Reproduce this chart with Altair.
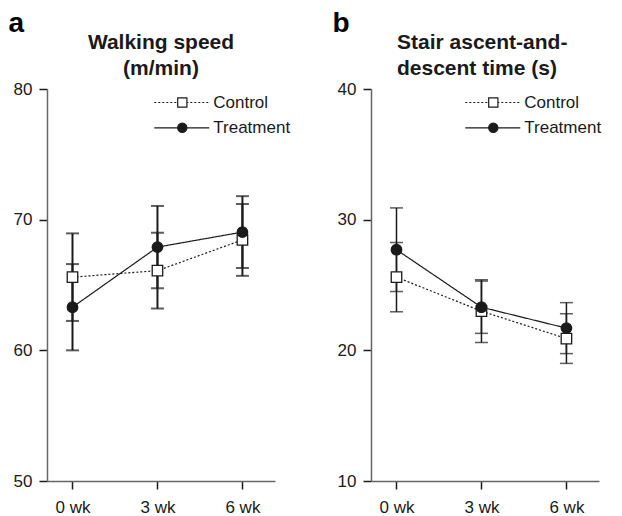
import altair as alt
import pandas as pd

weeks = [0, 3, 6]
groups = ["Control", "Treatment"]

walk_control_mean = [65.6, 66.1, 68.45]
walk_control_err = [3.35, 2.9, 2.75]
walk_treatment_mean = [63.3, 67.9, 69.05]
walk_treatment_err = [3.3, 3.15, 2.75]

stair_control_mean = [25.6, 23.0, 20.9]
stair_control_err = [2.65, 2.4, 1.9]
stair_treatment_mean = [27.7, 23.3, 21.7]
stair_treatment_err = [3.2, 2.0, 1.95]

walk_ticks = [50, 60, 70, 80]
stair_ticks = [10, 20, 30, 40]

walk_title = ["Walking speed", "(m/min)"]
stair_title = ["Stair ascent-and-", "descent time (s)"]

FONT = "Liberation Sans"
INK = "#1a1a1a"


def frame(c_mean, c_err, t_mean, t_err):
    rows = []
    for g, means, errs in [("Control", c_mean, c_err), ("Treatment", t_mean, t_err)]:
        for w, m, e in zip(weeks, means, errs):
            rows.append({"week": w, "group": g, "marker": g, "mean": m,
                         "lo": m - e, "hi": m + e})
    return pd.DataFrame(rows)


def panel(df, ticks, title_lines, title_align, title_x, letter, leg_x, bar_w):
    xs = alt.Scale(domain=[-0.9, 7.15], nice=False, zero=False)
    ys = alt.Scale(domain=[ticks[0], ticks[-1]], nice=False, zero=False)
    common = dict(title=None, grid=False, domainColor="#666666", domainWidth=1.5,
                  tickColor=INK, tickWidth=1.5, tickSize=8, labelFont=FONT,
                  labelFontSize=17, labelColor=INK)
    xaxis = alt.Axis(values=weeks, labelExpr="datum.value + ' wk'", labelPadding=10, **common)
    yaxis = alt.Axis(values=ticks, labelPadding=7, **common)
    X = alt.X("week:Q", scale=xs, axis=xaxis)
    base = alt.Chart(df)

    rules = base.mark_rule(color=INK, strokeWidth=bar_w).encode(
        x=X, y=alt.Y("lo:Q", scale=ys, axis=yaxis), y2="hi:Q")
    cap_lo = base.mark_tick(orient="horizontal", size=13, thickness=bar_w, color=INK).encode(
        x=X, y=alt.Y("lo:Q", scale=ys))
    cap_hi = base.mark_tick(orient="horizontal", size=13, thickness=bar_w, color=INK).encode(
        x=X, y=alt.Y("hi:Q", scale=ys))

    line_legend = alt.Legend(title=None, orient="none", legendX=leg_x, legendY=5,
                             symbolType="M-5.5,0H5.5", symbolSize=100, symbolStrokeWidth=1.2,
                             labelFont=FONT, labelFontSize=17, labelColor=INK,
                             labelOffset=23, rowPadding=7.3, padding=0)
    marker_legend = alt.Legend(title=None, orient="none", legendX=leg_x + 0.5, legendY=5,
                               symbolSize=85, symbolStrokeWidth=1.2, symbolStrokeColor=INK,
                               labelFont=FONT, labelFontSize=17, labelOpacity=0,
                               labelOffset=24, rowPadding=7.3, padding=0)

    line = base.mark_line(color=INK, strokeWidth=1.2).encode(
        x=X, y=alt.Y("mean:Q", scale=ys),
        strokeDash=alt.StrokeDash("group:N", scale=alt.Scale(domain=groups, range=[[2, 2], [1, 0]]),
                                  legend=line_legend))
    points = base.mark_point(strokeWidth=1.3, opacity=1, size=110).encode(
        x=X, y=alt.Y("mean:Q", scale=ys),
        shape=alt.Shape("marker:N", scale=alt.Scale(range=["square", "circle"]),
                        legend=marker_legend),
        fill=alt.Fill("marker:N", scale=alt.Scale(range=["white", INK]),
                      legend=marker_legend),
        stroke=alt.Stroke("marker:N", scale=alt.Scale(range=[INK, INK]),
                          legend=marker_legend))

    letter_df = pd.DataFrame({"t": [letter]})
    letter_mark = alt.Chart(letter_df).mark_text(
        align="left", baseline="alphabetic", font=FONT, fontSize=28, fontWeight="bold",
        color="black").encode(x=alt.value(-38.5), y=alt.value(-57), text="t:N")

    title_mark = alt.Chart(letter_df).mark_text(
        text=title_lines, align=title_align, baseline="alphabetic", font=FONT, fontSize=21,
        fontWeight="bold", color=INK, lineHeight=26).encode(
        x=alt.value(title_x), y=alt.value(-40))

    return alt.layer(rules, cap_lo, cap_hi, line, points, letter_mark, title_mark).properties(
        width=228, height=392)


pa = panel(frame(walk_control_mean, walk_control_err, walk_treatment_mean, walk_treatment_err),
           walk_ticks, walk_title, "center", 114, "a", 126.3, 2.0)
pb = panel(frame(stair_control_mean, stair_control_err, stair_treatment_mean, stair_treatment_err),
           stair_ticks, stair_title, "left", 26, "b", 113.3, 1.5)

chart = alt.hconcat(pa, pb, spacing=96, bounds="flush").resolve_scale(
    x="independent", y="independent", strokeDash="independent",
    shape="independent", fill="independent", stroke="independent").resolve_legend(
    strokeDash="independent", shape="independent", fill="independent",
    stroke="independent").configure_view(
    stroke=None).properties(padding={"left": 0, "top": 2, "right": 0, "bottom": 0})

chart.save("out.html", embed_options={"renderer": "svg", "actions": False})
